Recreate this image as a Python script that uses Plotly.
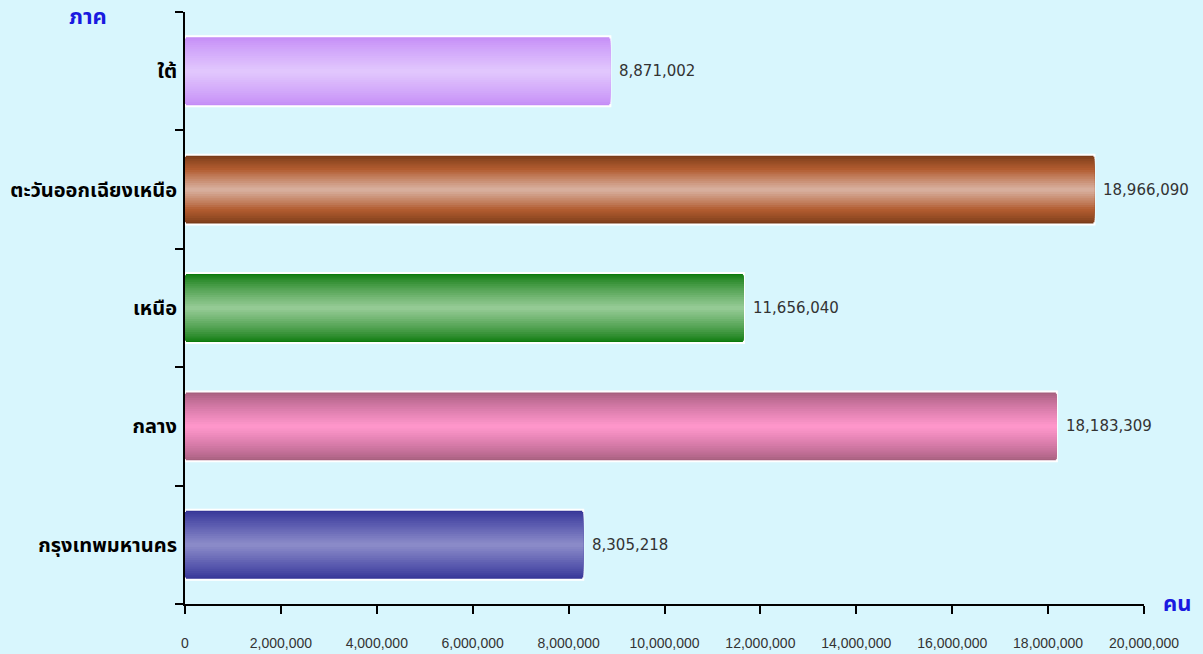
import plotly.graph_objects as go

regions = ["กรุงเทพมหานคร", "กลาง", "เหนือ", "ตะวันออกเฉียงเหนือ", "ใต้"]
population = [8305218, 18183309, 11656040, 18966090, 8871002]
x_ticks = [0, 2000000, 4000000, 6000000, 8000000, 10000000, 12000000,
           14000000, 16000000, 18000000, 20000000]

# gradient colour stops per bar: (edge, middle, centre)
grad = [
    ((52, 52, 150), (90, 90, 175), (138, 138, 200)),
    ((165, 95, 125), (210, 120, 165), (254, 150, 202)),
    ((12, 122, 12), (80, 160, 80), (148, 202, 148)),
    ((118, 58, 24), (178, 92, 48), (215, 174, 156)),
    ((196, 140, 246), (210, 168, 250), (225, 198, 253)),
]

BG = "#d8f6fd"
W = 0.59
N = 16


def interp(stops, t):
    e, m, c = stops
    if t < 0.5:
        a, b, u = e, m, t / 0.5
    else:
        a, b, u = m, c, (t - 0.5) / 0.5
    return "rgb(%d,%d,%d)" % tuple(round(a[k] + (b[k] - a[k]) * u) for k in range(3))


fig = go.Figure()
for i in range(N):
    t = i / (N - 1)
    frac = 1 - i / N
    colors = [interp(g, t ** 0.8) for g in grad]
    fig.add_trace(go.Bar(
        y=regions, x=population, orientation="h",
        width=[W * frac] * len(regions),
        marker=dict(color=colors,
                    line=dict(color="white", width=2 if i == 0 else 0)),
        showlegend=False, hoverinfo="skip" if i else "x+y",
    ))

annotations = [
    dict(x=v, y=r, xref="x", yref="y", text=f"{v:,}", showarrow=False,
         xanchor="left", yanchor="middle", xshift=7,
         font=dict(family="Tahoma, DejaVu Sans, sans-serif", size=15, color="#333333"))
    for r, v in zip(regions, population)
]
annotations += [
    dict(text="<b>ภาค</b>", x=-0.101, y=0.99, xref="paper", yref="paper",
         xanchor="center", yanchor="middle", showarrow=False,
         font=dict(size=22, color="#1a1ae0")),
    dict(text="<b>คน</b>", x=1, y=0, xref="paper", yref="paper",
         xanchor="left", yanchor="middle", xshift=17, showarrow=False,
         font=dict(size=22, color="#1a1ae0")),
]

fig.update_layout(
    width=1203, height=654,
    barmode="overlay",
    paper_bgcolor=BG, plot_bgcolor=BG,
    margin=dict(l=185, r=59, t=12, b=50),
    font=dict(family="Tahoma, Noto Sans Thai, Noto Sans, sans-serif"),
    xaxis=dict(
        range=[0, 20000000], tickvals=x_ticks,
        ticktext=[f"{v:,}" for v in x_ticks],
        showgrid=False, zeroline=False, automargin=False,
        showline=True, linecolor="black", linewidth=2,
        ticks="outside", ticklen=8, tickwidth=2, tickcolor="black",
        ticklabelstandoff=17,
        tickfont=dict(size=14, color="#333333", family="Liberation Sans, Arial, sans-serif"),
    ),
    yaxis=dict(
        categoryorder="array", categoryarray=regions,
        range=[-0.5, 4.5], automargin=False,
        showgrid=False, zeroline=False,
        showline=True, linecolor="black", linewidth=2,
        ticks="outside", tickson="boundaries", ticklen=8, tickwidth=2, tickcolor="black",
        ticklabelstandoff=2,
        tickfont=dict(size=20, color="black", weight="bold"),
    ),
    annotations=annotations,
)

fig.write_html("out.html", config={"displayModeBar": False},
               post_script="document.body.style.margin='0';document.body.style.background='%s';" % BG)
